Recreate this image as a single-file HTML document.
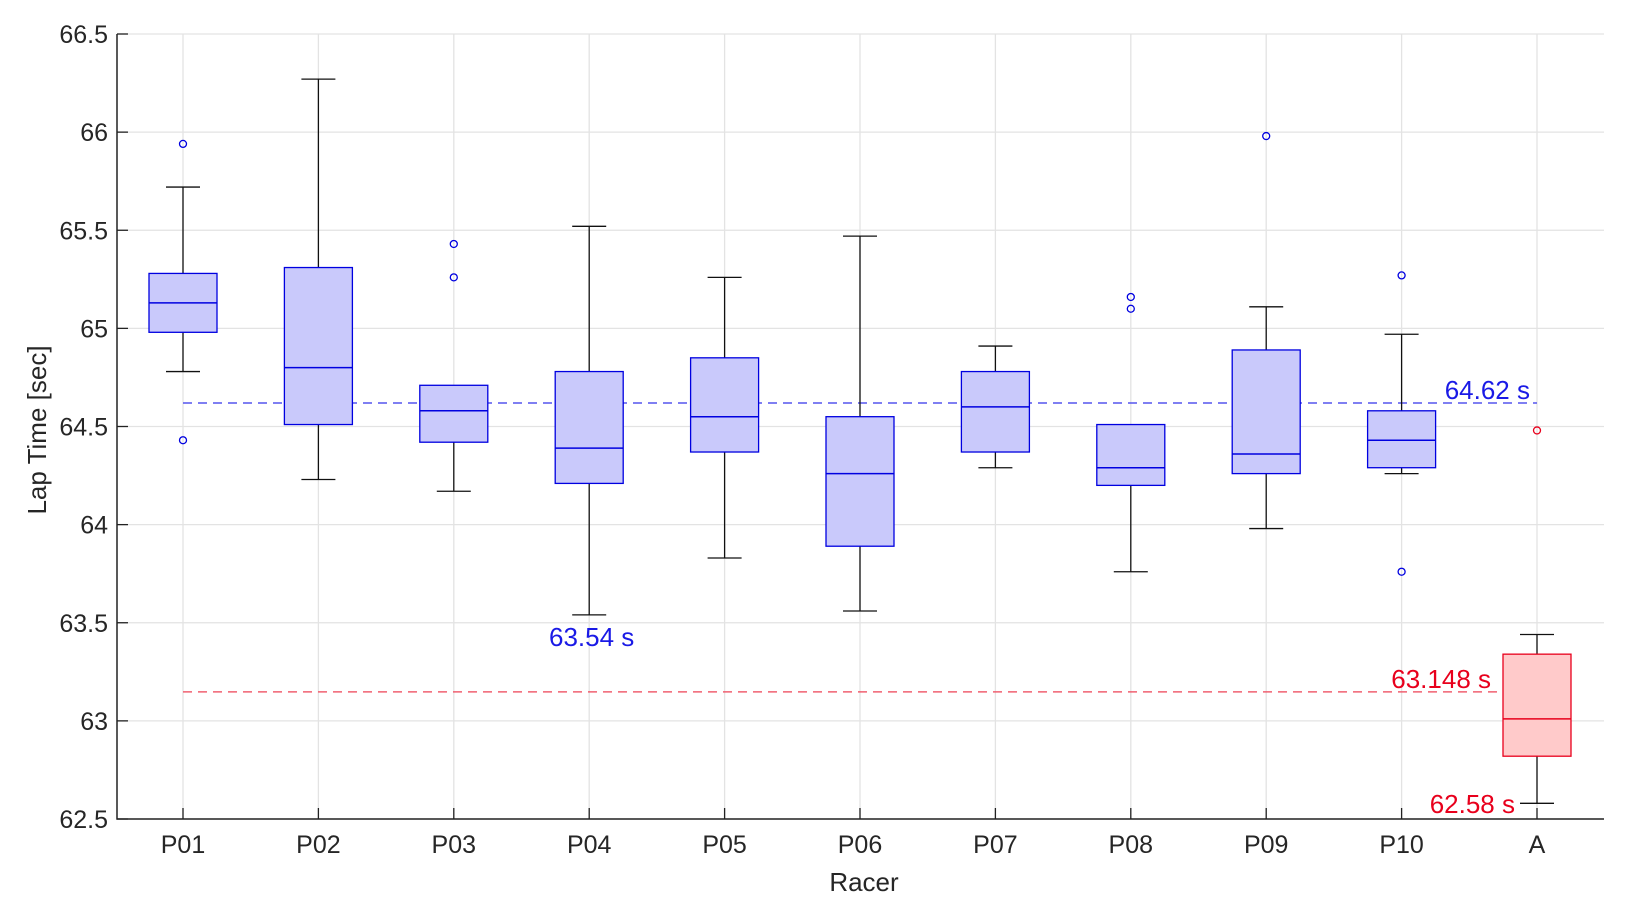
<!DOCTYPE html>
<html><head><meta charset="utf-8"><style>
body{margin:0;background:#fff;}
svg{display:block;font-family:"Liberation Sans",sans-serif;}
</style></head><body>
<svg id="chart" width="1629" height="914"></svg>
<script>
const categories=["P01","P02","P03","P04","P05","P06","P07","P08","P09","P10","A"];
const whiskerLow=[64.78,64.23,64.17,63.54,63.83,63.56,64.29,63.76,63.98,64.26,62.58];
const q1=[64.98,64.51,64.42,64.21,64.37,63.89,64.37,64.20,64.26,64.29,62.82];
const median=[65.13,64.80,64.58,64.39,64.55,64.26,64.60,64.29,64.36,64.43,63.01];
const q3=[65.28,65.31,64.71,64.78,64.85,64.55,64.78,64.51,64.89,64.58,63.34];
const whiskerHigh=[65.72,66.27,64.71,65.52,65.26,65.47,64.91,64.51,65.11,64.97,63.44];
const outliers=[[65.94,64.43],[],[65.43,65.26],[],[],[],[],[65.16,65.10],[65.98],[65.27,63.76],[64.48]];
const yTicks=[62.5,63,63.5,64,64.5,65,65.5,66,66.5];
const refBlue=64.62, refRed=63.148;
const NS="http://www.w3.org/2000/svg";
const svg=document.getElementById("chart");
const L=117,R=1604,T=34,B=819;
const y=v=>B-(v-62.5)/4*(B-T);
const x=i=>183+i*135.4;
function mk(t,a,p){const e=document.createElementNS(NS,t);for(const k in a)e.setAttribute(k,a[k]);(p||svg).appendChild(e);return e;}
yTicks.forEach((v,i)=>{
 const g=mk("line",{x1:L,x2:R,y1:y(v),y2:y(v),stroke:"#e3e3e3","stroke-width":1.3});
 
 
 const t=mk("line",{x1:L,x2:L+11,y1:y(v),y2:y(v),stroke:"#222","stroke-width":1.3});
 
 
 const tx=mk("text",{x:L-9,y:y(v)+9,"text-anchor":"end","font-size":25,fill:"#262626"});tx.textContent=v;
 
 
});
categories.forEach((c,i)=>{
 const g=mk("line",{x1:x(i),x2:x(i),y1:T,y2:B,stroke:"#e3e3e3","stroke-width":1.3});
 
 
 const t=mk("line",{x1:x(i),x2:x(i),y1:B,y2:B-11,stroke:"#222","stroke-width":1.3});
 
 
 const tx=mk("text",{x:x(i),y:B+34,"text-anchor":"middle","font-size":25,fill:"#262626"});tx.textContent=c;
 
 
});
const ax=mk("path",{d:`M${L},${T}V${B}H${R}`,fill:"none",stroke:"#222","stroke-width":1.5});


const lb=mk("line",{x1:x(0),x2:x(10),y1:y(refBlue),y2:y(refBlue),stroke:"#5555ee","stroke-width":1.5,"stroke-dasharray":"9,6"});


const lr=mk("line",{x1:x(0),x2:x(10),y1:y(refRed),y2:y(refRed),stroke:"#f06070","stroke-width":1.5,"stroke-dasharray":"9,6"});


categories.forEach((c,i)=>{
 const red=i===10, stroke=red?"#e8001c":"#0000e0", fill=red?"#ffcaca":"#c9c9fb";
 const g=mk("g",{});
 
 
 const cx=x(i);
 if(whiskerHigh[i]>q3[i]){
  mk("line",{x1:cx,x2:cx,y1:y(whiskerHigh[i]),y2:y(q3[i]),stroke:"#111","stroke-width":1.3},g);
  mk("line",{x1:cx-17,x2:cx+17,y1:y(whiskerHigh[i]),y2:y(whiskerHigh[i]),stroke:"#111","stroke-width":1.3},g);
 }
 mk("line",{x1:cx,x2:cx,y1:y(q1[i]),y2:y(whiskerLow[i]),stroke:"#111","stroke-width":1.3},g);
 mk("line",{x1:cx-17,x2:cx+17,y1:y(whiskerLow[i]),y2:y(whiskerLow[i]),stroke:"#111","stroke-width":1.3},g);
 mk("rect",{x:cx-34,y:y(q3[i]),width:68,height:y(q1[i])-y(q3[i]),fill:fill,stroke:stroke,"stroke-width":1.3},g);
 mk("line",{x1:cx-34,x2:cx+34,y1:y(median[i]),y2:y(median[i]),stroke:stroke,"stroke-width":1.5},g);
 outliers[i].forEach(o=>{
  const ci=mk("circle",{cx:cx,cy:y(o),r:3.5,fill:"none",stroke:stroke,"stroke-width":1.3},g);
  
  
 });
});
function label(txt,xx,yy,col,anchor,name){const t=mk("text",{x:xx,y:yy,"text-anchor":anchor,"font-size":26,fill:col});t.textContent=txt;
 
 }
label("64.62 s",1530,399,"#1a1ae6","end","annotation-mean-blue");
label("63.54 s",549,646,"#1a1ae6","start","annotation-min-blue");
label("63.148 s",1491,688,"#e8001c","end","annotation-mean-red");
label("62.58 s",1515,813,"#e8001c","end","annotation-min-red");
const xt=mk("text",{x:864,y:891,"text-anchor":"middle","font-size":26,fill:"#262626"});xt.textContent="Racer";


const yt=mk("text",{x:0,y:0,"text-anchor":"middle","font-size":26,fill:"#262626",transform:"translate(46,430) rotate(-90)"});yt.textContent="Lap Time [sec]";


</script>
</body></html>
